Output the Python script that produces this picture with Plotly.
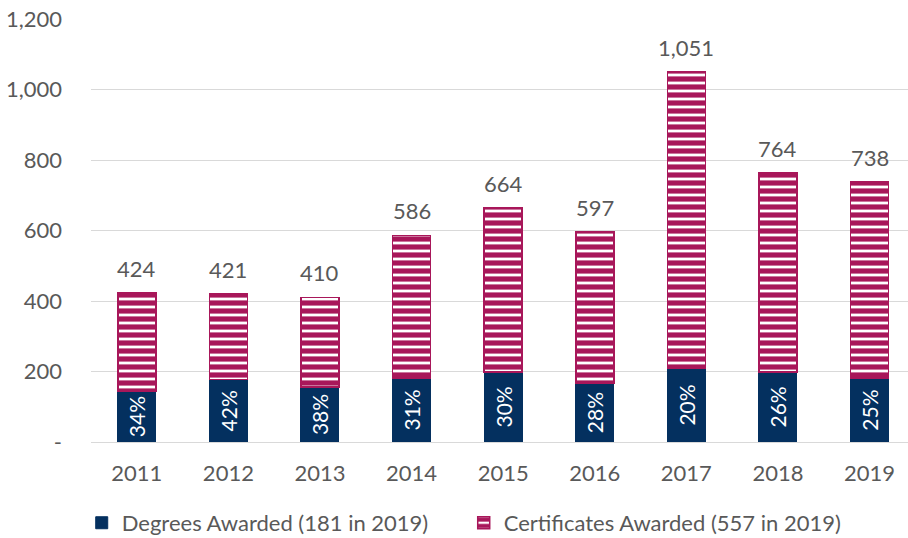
import plotly.graph_objects as go

years = ["2011", "2012", "2013", "2014", "2015", "2016", "2017", "2018", "2019"]
totals = [424, 421, 410, 586, 664, 597, 1051, 764, 738]
degrees = [144, 177, 156, 182, 199, 167, 210, 199, 181]
certificates = [t - d for t, d in zip(totals, degrees)]
pct_labels = ["34%", "42%", "38%", "31%", "30%", "28%", "20%", "26%", "25%"]
total_labels = ["424", "421", "410", "586", "664", "597", "1,051", "764", "738"]
ytick_vals = [0, 200, 400, 600, 800, 1000, 1200]
ytick_text = ["-", "200", "400", "600", "800", "1,000", "1,200"]

NAVY = "#04305F"
MAG = "#A8175A"
FONT = "Lato"
GREY = "#595959"
FS = 22

fig = go.Figure()
fig.add_trace(go.Bar(
    x=years, y=degrees, name="Degrees Awarded (181 in 2019)",
    marker=dict(color=NAVY, line=dict(color=NAVY, width=1)),
    text=pct_labels, textposition="inside", textangle=-90,
    insidetextanchor="middle",
    textfont=dict(color="white", size=21, family=FONT),
))
fig.add_trace(go.Bar(
    x=years, y=certificates, name="Certificates Awarded (557 in 2019)",
    marker=dict(color="white", line=dict(color=MAG, width=1.5),
                pattern=dict(shape="-", fgcolor=MAG, bgcolor="white", fgopacity=1,
                             size=8, solidity=0.65, fillmode="replace")),
))

for i, (tot, lab) in enumerate(zip(totals, total_labels)):
    fig.add_annotation(x=i, y=tot, xref="x", yref="y", text=lab, showarrow=False,
                       yanchor="bottom", yshift=9,
                       font=dict(color=GREY, size=FS, family=FONT))

fig.update_layout(
    barmode="stack", bargap=0.585,
    width=908, height=538,
    margin=dict(l=91, r=0, t=19, b=96),
    plot_bgcolor="white", paper_bgcolor="white",
    font=dict(family=FONT, size=FS, color=GREY),
    showlegend=True,
    legend=dict(orientation="h", xref="container", x=0.09, xanchor="left",
                yref="container", y=0.028, yanchor="middle",
                itemwidth=30, entrywidth=337, entrywidthmode="pixels",
                font=dict(size=FS, color=GREY, family=FONT),
                traceorder="normal"),
    uniformtext=dict(mode="show", minsize=8),
)
fig.update_yaxes(range=[0, 1200], tickvals=ytick_vals, ticktext=ytick_text,
                 showgrid=True, gridcolor="#D9D9D9", gridwidth=1,
                 zeroline=True, zerolinecolor="#D9D9D9", zerolinewidth=1,
                 ticks="", tickfont=dict(size=FS, color=GREY), ticklabelstandoff=28,
                 automargin=False)
fig.update_xaxes(range=[-0.5, 8.42], showline=False, ticks="",
                 tickfont=dict(size=FS, color=GREY), ticklabelstandoff=16,
                 automargin=False)

fig.write_html("out.html", config={"displayModeBar": False},
               post_script="document.body.style.margin='0';")
